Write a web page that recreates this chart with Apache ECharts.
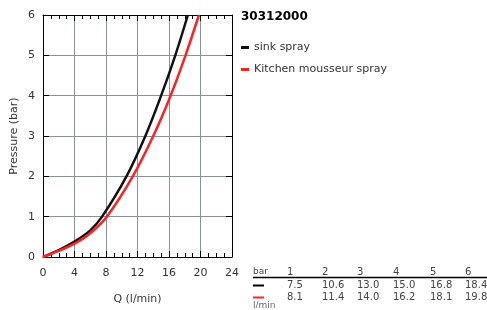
<!DOCTYPE html>
<html><head><meta charset="utf-8">
<script src="https://cdn.jsdelivr.net/npm/echarts@6/dist/echarts.min.js"></script>
<style>html,body{margin:0;padding:0;background:#fff}#c{width:487px;height:310px}</style>
</head><body><div id="c"></div>
<script>
// curve points (Q in l/min, P in bar)
var sinkQ = [0, 2, 4, 6, 7.5, 10.6, 13.0, 15.0, 16.8, 18.4];
var sinkP = [0, 0.17, 0.38, 0.66, 1, 2, 3, 4, 5, 6];
var mousseurQ = [0, 2, 4, 6, 8.1, 11.4, 14.0, 16.2, 18.1, 19.8];
var mousseurP = [0, 0.15, 0.33, 0.59, 1, 2, 3, 4, 5, 6];
var tableBars = ['1', '2', '3', '4', '5', '6'];
var tableSink = ['7.5', '10.6', '13.0', '15.0', '16.8', '18.4'];
var tableMousseur = ['8.1', '11.4', '14.0', '16.2', '18.1', '19.8'];
var seriesNames = ['sink spray', 'Kitchen mousseur spray'];
var titleText = '30312000';

var FONT = 'DejaVu Sans';
function pts(qs, ps){ return qs.map(function(q,i){ return [q, ps[i]]; }); }

var chart = echarts.init(document.getElementById('c'), null, {renderer:'canvas'});
var colX = [287, 322, 357, 393, 430, 465];
var g = [];
g.push({type:'text', left:241, top:11, style:{text:titleText, font:'bold 12px "DejaVu Sans"', fill:'#000'}});
g.push({type:'text', left:253, top:267, style:{text:'bar', font:'9px "DejaVu Sans"', fill:'#444'}});
g.push({type:'line', shape:{x1:253,y1:277.5,x2:487,y2:277.5}, style:{stroke:'#000', lineWidth:1.6}});
g.push({type:'line', shape:{x1:253,y1:285.5,x2:264,y2:285.5}, style:{stroke:'#000', lineWidth:2}});
g.push({type:'line', shape:{x1:253,y1:297.5,x2:264,y2:297.5}, style:{stroke:'#ff2020', lineWidth:2}});
g.push({type:'text', left:253, top:301, style:{text:'l/min', font:'9px "DejaVu Sans"', fill:'#666'}});
for (var i=0;i<tableBars.length;i++){
  g.push({type:'text', left:colX[i], top:267, style:{text:tableBars[i], font:'10px "DejaVu Sans"', fill:'#444'}});
  g.push({type:'text', left:colX[i], top:280, style:{text:tableSink[i], font:'10px "DejaVu Sans"', fill:'#444'}});
  g.push({type:'text', left:colX[i], top:292, style:{text:tableMousseur[i], font:'10px "DejaVu Sans"', fill:'#444'}});
}

chart.setOption({
  animation:false,
  backgroundColor:'#fff',
  textStyle:{fontFamily:FONT},
  legend:{
    orient:'vertical', left:241, top:42, padding:0, itemGap:11, itemWidth:8, itemHeight:3,
    icon:'rect',
    textStyle:{fontFamily:FONT, fontSize:11, color:'#333'},
    data:seriesNames
  },
  grid:{left:43, right:255, top:15, bottom:51, containLabel:false},
  xAxis:[{
    type:'value', min:0, max:24, interval:4, position:'bottom',
    name:'Q (l/min)', nameLocation:'middle', nameGap:37,
    nameTextStyle:{fontFamily:FONT, fontSize:11, color:'#333'},
    axisLine:{show:true, onZero:false, lineStyle:{color:'#000', width:1}},
    axisTick:{show:true, inside:true, length:6, lineStyle:{color:'#000'}},
    minorTick:{show:true, splitNumber:4, length:4, lineStyle:{color:'#000'}},
    axisLabel:{fontFamily:FONT, fontSize:11, color:'#333', margin:11},
    splitLine:{show:true, lineStyle:{color:'#8a8fa0', width:1}}
  },{
    type:'value', min:0, max:24, interval:4, position:'top',
    axisLine:{show:true, onZero:false, lineStyle:{color:'#000', width:1}},
    axisTick:{show:true, inside:true, length:6, lineStyle:{color:'#000'}},
    minorTick:{show:true, splitNumber:4, length:4, lineStyle:{color:'#000'}},
    axisLabel:{show:false}, splitLine:{show:false}
  }],
  yAxis:[{
    type:'value', min:0, max:6, interval:1, position:'left',
    name:'Pressure (bar)', nameLocation:'middle', nameGap:23, nameRotate:90,
    nameTextStyle:{fontFamily:FONT, fontSize:11, color:'#333'},
    axisLine:{show:true, onZero:false, lineStyle:{color:'#000', width:1}},
    axisTick:{show:true, inside:true, length:6, lineStyle:{color:'#000'}},
    minorTick:{show:false},
    axisLabel:{fontFamily:FONT, fontSize:11, color:'#333', margin:8},
    splitLine:{show:true, lineStyle:{color:'#8a8fa0', width:1}}
  },{
    type:'value', min:0, max:6, interval:1, position:'right',
    axisLine:{show:true, onZero:false, lineStyle:{color:'#000', width:1}},
    axisTick:{show:true, inside:true, length:6, lineStyle:{color:'#000'}},
    minorTick:{show:false},
    axisLabel:{show:false}, splitLine:{show:false}
  }],
  series:[
    {name:seriesNames[0], type:'line', smooth:0.3, showSymbol:false, data:pts(sinkQ, sinkP),
     lineStyle:{color:'#111', width:2.5}, itemStyle:{color:'#111'}},
    {name:seriesNames[1], type:'line', smooth:0.3, showSymbol:false, data:pts(mousseurQ, mousseurP),
     lineStyle:{color:'#ff2020', width:2.5}, itemStyle:{color:'#ff2020'}}
  ],
  graphic:g
});
</script></body></html>
